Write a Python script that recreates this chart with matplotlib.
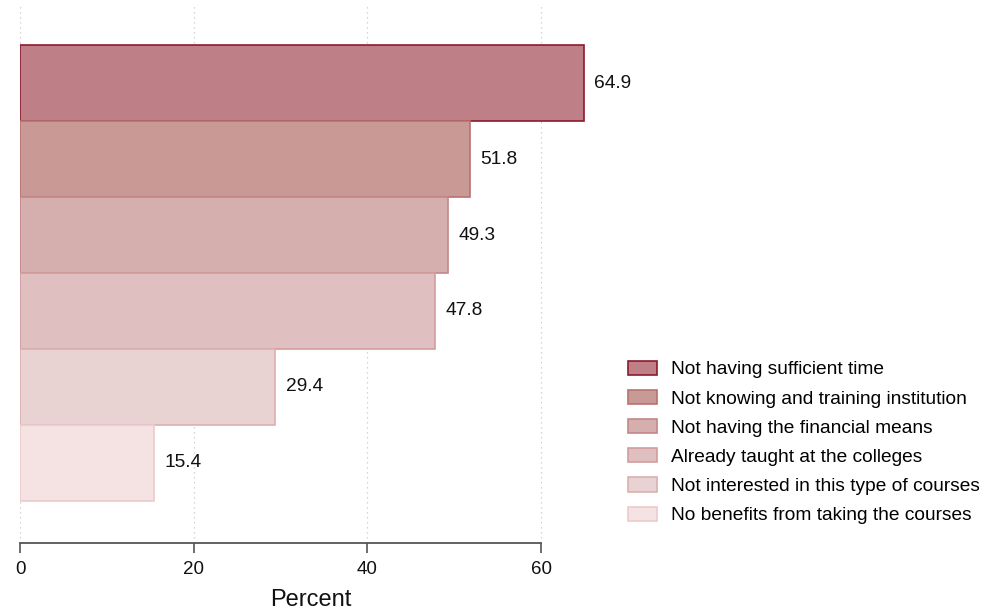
import matplotlib
matplotlib.use("Agg")
import matplotlib.pyplot as plt

plt.rcParams["font.family"] = ["Liberation Sans", "DejaVu Sans"]

# reasons, top to bottom
categories = [
    "Not having sufficient time",
    "Not knowing and training institution",
    "Not having the financial means",
    "Already taught at the colleges",
    "Not interested in this type of courses",
    "No benefits from taking the courses",
]
percent = [64.9, 51.8, 49.3, 47.8, 29.4, 15.4]
fill_colors = ["#be7f86", "#c99a95", "#d5aeae", "#dfbfbf", "#e8d2d2", "#f5e2e2"]
edge_colors = ["#8c1a2c", "#b77272", "#c38888", "#d29d9d", "#dcb0b0", "#eccaca"]
x_ticks = [0, 20, 40, 60]

fig = plt.figure(figsize=(10.01, 6.10), dpi=100)
ax = fig.add_axes([20 / 1001, 67 / 610, 582 / 1001, 540 / 610])

n = len(categories)
for i, (label, val) in enumerate(zip(categories, percent)):
    pos = n - 1 - i
    ax.barh(pos, val, height=1.0, color=fill_colors[i], edgecolor=edge_colors[i],
            linewidth=1.2, label=label, zorder=2)
    ax.text(val + 1.2, pos, f"{val:.1f}", va="center", ha="left", fontsize=13.8,
            color="#111111", zorder=3)

ax.set_xlim(0, 67)
ax.set_ylim(-1.053, n - 0.5 + 0.553)

# dotted vertical grid
ax.set_xticks(x_ticks)
ax.xaxis.grid(True, linestyle=(0, (1, 3)), color="#c8c8c8", linewidth=0.9, zorder=0)
ax.set_axisbelow(True)

ax.set_yticks([])
for side in ["top", "right", "left"]:
    ax.spines[side].set_visible(False)
ax.spines["bottom"].set_bounds(0, 60)
ax.spines["bottom"].set_color("#555555")
ax.spines["bottom"].set_linewidth(1.3)
ax.tick_params(axis="x", direction="out", length=7, width=1.2, color="#555555",
               labelsize=13.5, labelcolor="#111111", pad=6)
ax.set_xlabel("Percent", fontsize=17, color="#111111", labelpad=8)

leg = fig.legend(loc="upper left", bbox_to_anchor=(620 / 1001, 1 - 353 / 610),
                 frameon=False, fontsize=13.8, handlelength=1.55, handleheight=0.75,
                 labelspacing=0.6, handletextpad=0.72, borderaxespad=0)

fig.savefig("out.png", dpi=100)
